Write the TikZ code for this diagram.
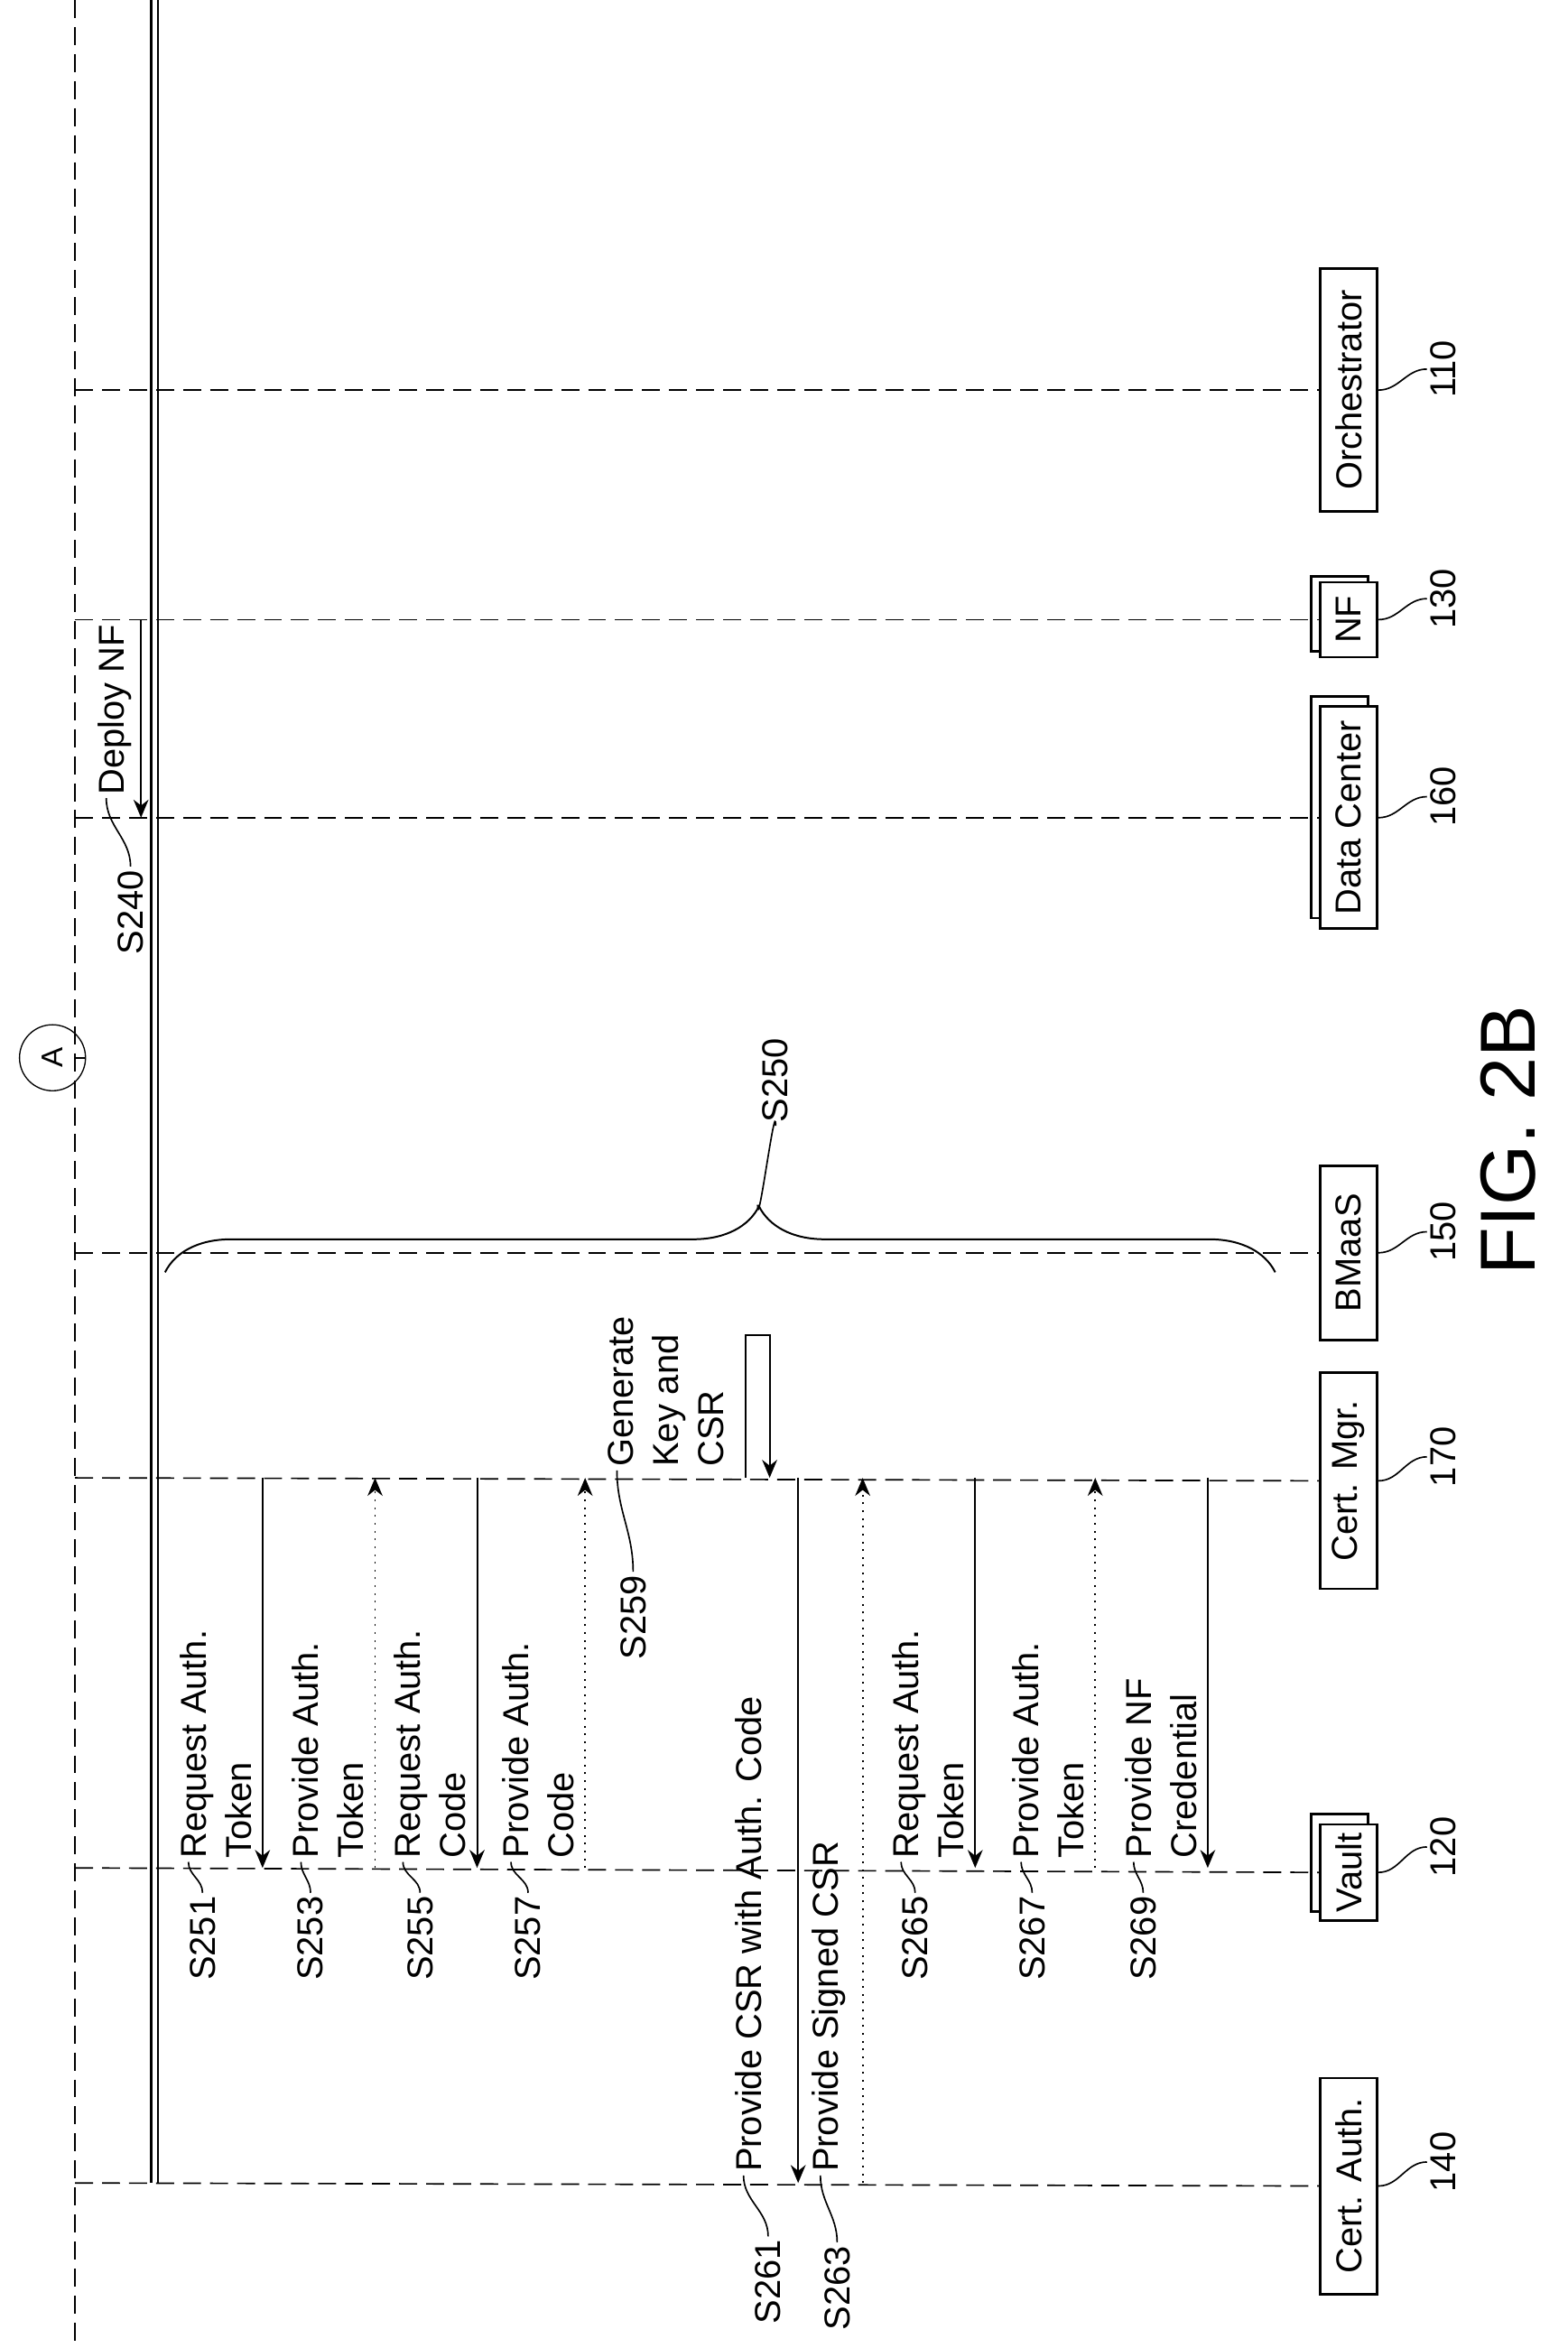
\documentclass[tikz,border=0pt]{standalone}
\usepackage{fontspec}
\setmainfont{Liberation Sans}
\usetikzlibrary{arrows.meta,decorations.pathreplacing}

\tikzset{
	life/.style={black, dashed, dash pattern=on 6pt off 3pt, line width=0.5pt},
	actor/.style={draw, thick, fill=white, rotate=90, minimum height=19pt, inner sep=2pt, font=\fontsize{12}{14}\selectfont},
	msg/.style={-{Stealth[length=6pt,width=5pt]}, line width=0.6pt},
	reply/.style={msg, dotted},
	txt/.style={rotate=90, anchor=south west, align=left, inner sep=1pt, font=\fontsize{12}{15}\selectfont},
	lbl/.style={rotate=90, inner sep=1pt, font=\fontsize{12}{14}\selectfont},
	lead/.style={line width=0.5pt}
}

\begin{document}
\begin{tikzpicture}[x=0.5pt, y=-0.5pt]
\useasboundingbox (0,0) rectangle (1045,1565);

% left rails
\draw [life] (50,0) -- (50,1565);
\draw [double, line width=0.8pt, double distance=1.4pt] (103,0) -- (103,1455);
\node (circA) at (35,705) [draw, circle, minimum size=22pt, inner sep=0pt, rotate=90] {A};
\draw [lead] (circA.south) -- (50,705);

% actors
\draw [thick, fill=white] (874,464) rectangle (912,612);
\draw [thick, fill=white] (874,384) rectangle (912,434);
\draw [thick, fill=white] (874,1209) rectangle (912,1274);
\node (orch) at (899,260) [actor, minimum width=81pt] {Orchestrator};
\node (nf) at (899,413) [actor, minimum width=25pt] {NF};
\node (dc) at (899,545) [actor, minimum width=74pt] {Data Center};
\node (bm) at (899,835) [actor, minimum width=58pt] {BMaaS};
\node (cm) at (899,987) [actor, minimum width=72pt] {Cert. Mgr.};
\node (vault) at (899,1248) [actor, minimum width=32pt] {Vault};
\node (ca) at (899,1457) [actor, minimum width=72pt] {Cert. Auth.};

% lifelines and numbers
\foreach \a/\y/\n in {orch/260/110, nf/413/130, dc/545/160, bm/835/150, cm/985/170, vault/1245/120, ca/1455/140} {
	\draw [life] (50,\y) -- (\a.north);
	\node (n\n) at (962,\y-14) [lbl] {\n};
	\draw [lead] (\a.south) to[out=0, in=180] (n\n.north);
}

% S240
\draw [msg] (94,413) -- (94,545);
\node (t240) at (90,532) [txt] {Deploy NF};
\node (s240) at (87,608) [lbl] {S240};
\draw [lead] (s240.east) to[out=90, in=-90] ([xshift=4pt]t240.north west);

% S250 brace
\draw [decorate, decoration={brace, amplitude=22pt, aspect=0.535}, line width=0.6pt] (110,848) -- (850,848);
\node (s250) at (517,720) [lbl] {S250};
\draw [lead] (s250.west) to[out=90, in=-90] (505,803);

% messages between Cert. Mgr. and Vault
\foreach \x/\s/\t in {175/251/{Request Auth.\\Token}, 250/253/{Provide Auth.\\Token},
	318/255/{Request Auth.\\Code}, 390/257/{Provide Auth.\\Code},
	650/265/{Request Auth.\\Token}, 730/267/{Provide Auth.\\Token},
	805/269/{Provide NF\\Credential}} {
	\node (t\s) at (\x-5,1241) [txt] {\t};
}
\draw [msg] (175,985) -- (175,1245);
\draw [reply] (250,1245) -- (250,985);
\draw [msg] (318,985) -- (318,1245);
\draw [reply] (390,1245) -- (390,985);
\draw [msg] (650,985) -- (650,1245);
\draw [reply] (730,1245) -- (730,985);
\draw [msg] (805,985) -- (805,1245);
\foreach \x/\s in {135/251, 207/253, 280/255, 352/257, 610/265, 688/267, 762/269} {
	\node (s\s) at (\x,1292) [lbl] {S\s};
	\draw [lead] (s\s.east) to[out=90, in=-90] ([xshift=4pt]t\s.north west);
}

% S259 self call
\draw [msg] (497,985) -- (497,890) -- (513,890) -- (513,985);
\node (t259) at (485,980) [txt] {Generate\\Key and\\CSR};
\node (s259) at (422,1078) [lbl] {S259};
\draw [lead] (s259.east) to[out=90, in=-90] ([xshift=4pt]t259.north west);

% Cert. Mgr. and Cert. Auth.
\draw [msg] (532,985) -- (532,1455);
\draw [reply] (575,1455) -- (575,985);
\node (t261) at (510,1450) [txt] {Provide CSR with Auth. Code};
\node (t263) at (566,1450) [txt] {Provide Signed CSR};
\node (s261) at (512,1521) [lbl] {S261};
\node (s263) at (558,1525) [lbl] {S263};
\draw [lead] (s261.east) to[out=90, in=-90] ([xshift=4pt]t261.north west);
\draw [lead] (s263.east) to[out=90, in=-90] ([xshift=4pt]t263.north west);

\node (fig) at (1005,760) [rotate=90, font=\fontsize{26}{30}\selectfont] {FIG. 2B};
\end{tikzpicture}
\end{document}
